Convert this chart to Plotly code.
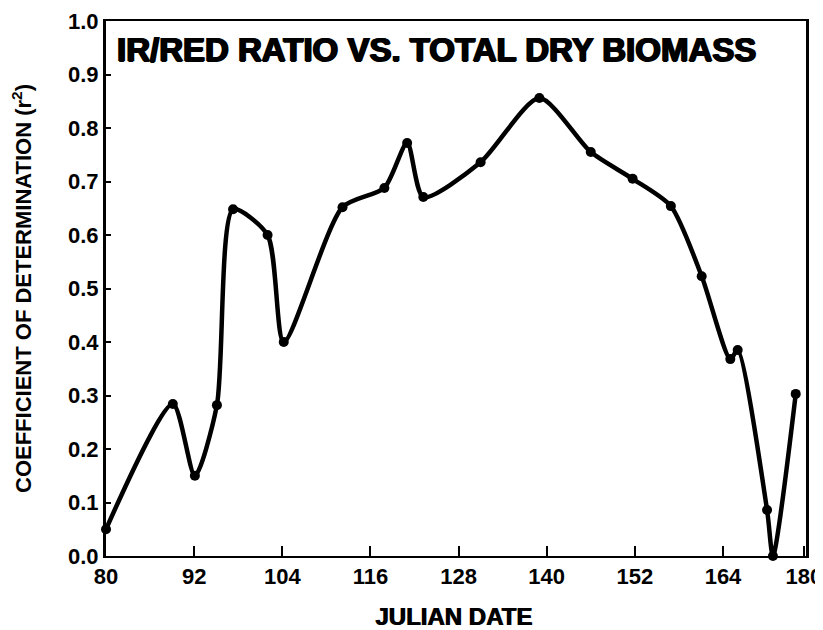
import plotly.graph_objects as go

julian_date = [80, 89.1, 92.1, 95.1, 97.3, 102.0, 104.2, 112.2, 117.9, 121.0, 123.2,
               131.0, 139.0, 146.0, 151.7, 156.9, 161.1, 165.0, 166.0, 170.0, 170.8, 173.9]
r_squared = [0.05, 0.284, 0.15, 0.282, 0.648, 0.60, 0.40, 0.652, 0.688, 0.772, 0.671,
             0.736, 0.856, 0.755, 0.705, 0.654, 0.523, 0.368, 0.385, 0.086, 0.0, 0.303]

x_tick_vals = [80, 92, 104, 116, 128, 140, 152, 164, 175]
x_tick_text = ["80", "92", "104", "116", "128", "140", "152", "164", "180"]
y_tick_vals = [0.0, 0.1, 0.2, 0.3, 0.4, 0.5, 0.6, 0.7, 0.8, 0.9, 1.0]
y_tick_text = ["0.0", "0.1", "0.2", "0.3", "0.4", "0.5", "0.6", "0.7", "0.8", "0.9", "1.0"]

FONT = "Liberation Sans"

fig = go.Figure()
fig.add_trace(go.Scatter(
    x=julian_date, y=r_squared, mode="lines+markers",
    line=dict(color="black", width=4.5, shape="spline", smoothing=0.7),
    marker=dict(color="black", size=10),
    cliponaxis=False, showlegend=False,
))

fig.add_annotation(
    x=0.013, y=0.985, xref="paper", yref="paper", xanchor="left", yanchor="top",
    text="IR/RED RATIO VS. TOTAL DRY BIOMASS", showarrow=False,
    font=dict(family=FONT, size=33, color="black", weight=900,
              shadow="1px 0px 0px black, -1px 0px 0px black, 0px 1px 0px black"),
)

fig.add_annotation(
    x=0.497, y=-0.114, xref="paper", yref="paper", xanchor="center", yanchor="middle",
    text="JULIAN DATE", showarrow=False,
    font=dict(family=FONT, size=24, color="black", weight="bold",
              shadow="1px 0px 0px black"),
)

fig.update_layout(
    width=815, height=622,
    margin=dict(l=98, r=17, t=13, b=74, autoexpand=False),
    paper_bgcolor="white", plot_bgcolor="white",
    font=dict(family=FONT, color="black"),
    xaxis=dict(
        range=[80, 175.3], tickvals=x_tick_vals, ticktext=x_tick_text,
        ticks="inside", ticklen=10, tickwidth=2, tickcolor="black",
        showline=True, linecolor="black", linewidth=2, mirror=True,
        showgrid=False, zeroline=False, automargin=False,
        tickfont=dict(family=FONT, size=22, weight="bold"),
    ),
    yaxis=dict(
        range=[0, 1.0], tickvals=y_tick_vals, ticktext=y_tick_text,
        ticks="inside", ticklen=5, tickwidth=2, tickcolor="black",
        showline=True, linecolor="black", linewidth=3, mirror=True,
        showgrid=False, zeroline=False, automargin=False,
        tickfont=dict(family=FONT, size=22, weight="bold"),
        title=dict(text="COEFFICIENT OF DETERMINATION (r<sup>2</sup>)",
                   font=dict(family=FONT, size=22, weight="bold"), standoff=33),
    ),
)

fig.write_html("out.html")
